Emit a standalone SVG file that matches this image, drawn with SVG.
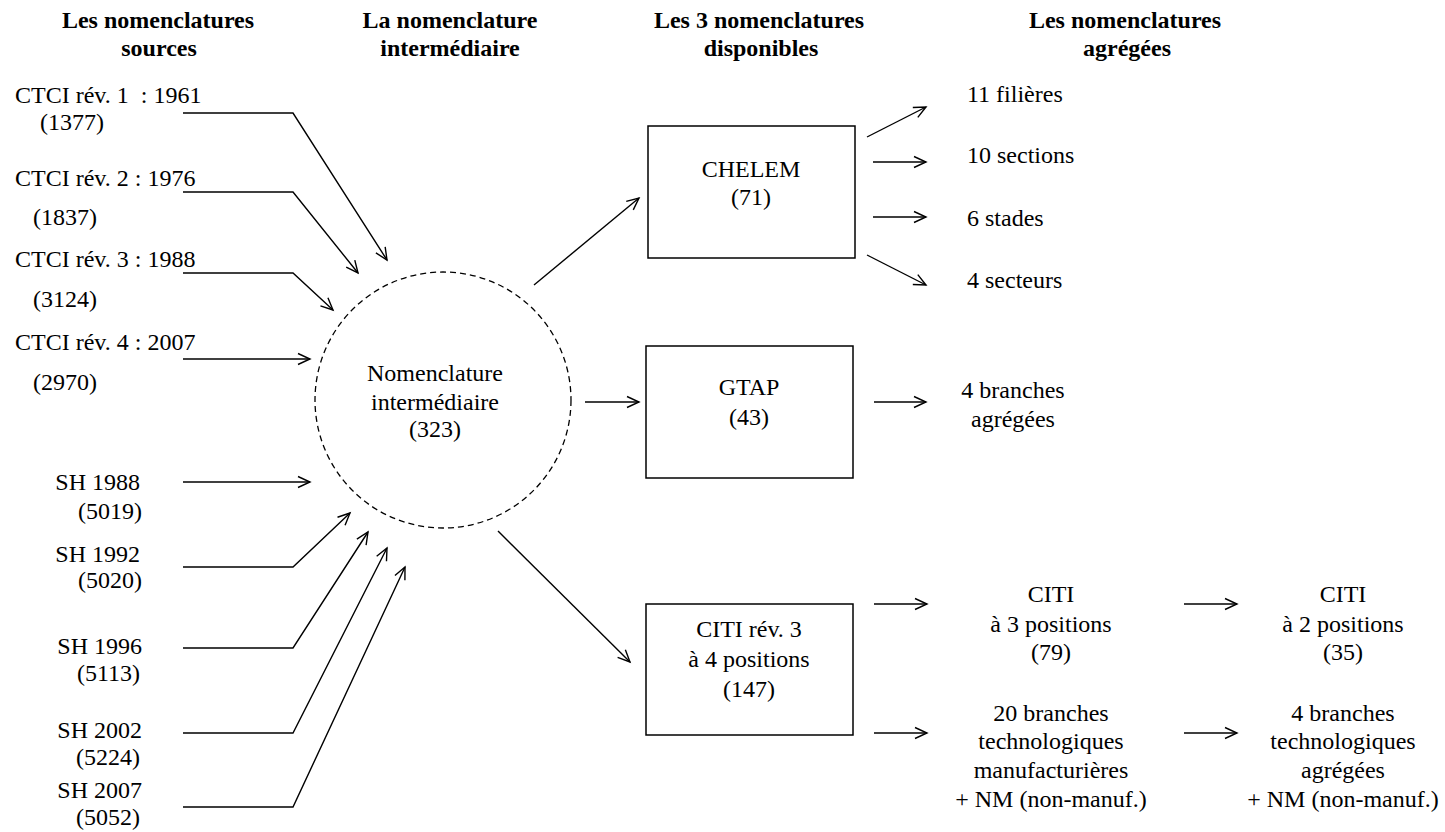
<svg xmlns="http://www.w3.org/2000/svg" width="1445" height="832" viewBox="0 0 1445 832">
<style>
text{font-family:"Liberation Serif","Times New Roman",serif;font-size:24px;fill:#000}
.h{font-weight:bold}
.c{text-anchor:middle}
.r{text-anchor:end}
.ln{fill:none;stroke:#000;stroke-width:1.4;marker-end:url(#ah)}
.box{fill:#fff;stroke:#000;stroke-width:1.5}
</style>
<defs>
<marker id="ah" markerUnits="userSpaceOnUse" markerWidth="16" markerHeight="14" refX="13" refY="7" orient="auto">
<path d="M1,1.5 L13,7 L1,12.5" fill="none" stroke="#000" stroke-width="1.4"/>
</marker>
</defs>
<rect width="1445" height="832" fill="#fff"/>
<g id="headers">
<text class="h c" x="158" y="28">Les nomenclatures</text>
<text class="h c" x="159" y="56">sources</text>
<text class="h c" x="450" y="28">La nomenclature</text>
<text class="h c" x="450" y="56">intermédiaire</text>
<text class="h c" x="759" y="28">Les 3 nomenclatures</text>
<text class="h c" x="761" y="56">disponibles</text>
<text class="h c" x="1125" y="28">Les nomenclatures</text>
<text class="h c" x="1127" y="56">agrégées</text>
</g>
<g id="sources">
<text x="15" y="103" xml:space="preserve">CTCI rév. 1  : 1961</text>
<text x="40" y="130">(1377)</text>
<text x="15" y="186">CTCI rév. 2 : 1976</text>
<text x="33" y="225">(1837)</text>
<text x="15" y="267">CTCI rév. 3 : 1988</text>
<text x="33" y="307">(3124)</text>
<text x="15" y="350">CTCI rév. 4 : 2007</text>
<text x="33" y="390">(2970)</text>
<text class="r" x="140" y="490">SH 1988</text>
<text class="r" x="142" y="519">(5019)</text>
<text class="r" x="140" y="562">SH 1992</text>
<text class="r" x="142" y="588">(5020)</text>
<text class="r" x="142" y="654">SH 1996</text>
<text class="r" x="140" y="681">(5113)</text>
<text class="r" x="142" y="738">SH 2002</text>
<text class="r" x="140" y="765">(5224)</text>
<text class="r" x="142" y="798">SH 2007</text>
<text class="r" x="140" y="825">(5052)</text>
</g>
<g id="intermediaire">
<circle cx="443" cy="400" r="128" fill="none" stroke="#000" stroke-width="1.3" stroke-dasharray="6,4"/>
<text class="c" x="435" y="381">Nomenclature</text>
<text class="c" x="435" y="410">intermédiaire</text>
<text class="c" x="435" y="437">(323)</text>
</g>
<g id="chelem">
<rect class="box" x="648" y="126" width="207" height="132"/>
<text class="c" x="751" y="177">CHELEM</text>
<text class="c" x="751" y="205">(71)</text>
</g>
<g id="gtap">
<rect class="box" x="646" y="346" width="207" height="132"/>
<text class="c" x="749" y="395">GTAP</text>
<text class="c" x="749" y="425">(43)</text>
</g>
<g id="citi">
<rect class="box" x="646" y="604" width="207" height="131"/>
<text class="c" x="749" y="637">CITI rév. 3</text>
<text class="c" x="749" y="667">à 4 positions</text>
<text class="c" x="749" y="697">(147)</text>
</g>
<g id="chelem-agg">
<text x="967" y="102">11 filières</text>
<text x="967" y="163">10 sections</text>
<text x="967" y="226">6 stades</text>
<text x="967" y="288">4 secteurs</text>
</g>
<g id="gtap-agg">
<text class="c" x="1013" y="398">4 branches</text>
<text class="c" x="1013" y="427">agrégées</text>
</g>
<g id="citi3">
<text class="c" x="1051" y="602">CITI</text>
<text class="c" x="1051" y="632">à 3 positions</text>
<text class="c" x="1051" y="660">(79)</text>
</g>
<g id="branches20">
<text class="c" x="1051" y="721">20 branches</text>
<text class="c" x="1051" y="749">technologiques</text>
<text class="c" x="1051" y="778">manufacturières</text>
<text class="c" x="1051" y="807">+ NM (non-manuf.)</text>
</g>
<g id="citi2">
<text class="c" x="1343" y="602">CITI</text>
<text class="c" x="1343" y="632">à 2 positions</text>
<text class="c" x="1343" y="660">(35)</text>
</g>
<g id="branches4">
<text class="c" x="1343" y="721">4 branches</text>
<text class="c" x="1343" y="749">technologiques</text>
<text class="c" x="1343" y="778">agrégées</text>
<text class="c" x="1343" y="807">+ NM (non-manuf.)</text>
</g>
<g id="connectors">
<path class="ln" d="M183,113 H293 L387,260"/>
<path class="ln" d="M183,192 H293 L358,273"/>
<path class="ln" d="M183,273 H293 L333,310"/>
<path class="ln" d="M183,359 H310"/>
<path class="ln" d="M183,482 H310"/>
<path class="ln" d="M183,567 H293 L350,513"/>
<path class="ln" d="M183,648 H293 L368,532"/>
<path class="ln" d="M183,733 H293 L387,548"/>
<path class="ln" d="M183,807 H293 L405,567"/>
<path class="ln" d="M534,285 L639,198"/>
<path class="ln" d="M585,402 H639"/>
<path class="ln" d="M498,531 L630,662"/>
<path class="ln" d="M867,137 L926,107"/>
<path class="ln" d="M873,162 H926"/>
<path class="ln" d="M873,217 H926"/>
<path class="ln" d="M867,255 L926,285"/>
<path class="ln" d="M874,402 H926"/>
<path class="ln" d="M874,604 H927"/>
<path class="ln" d="M874,733 H927"/>
<path class="ln" d="M1184,604 H1237"/>
<path class="ln" d="M1184,733 H1237"/>
</g>
</svg>
